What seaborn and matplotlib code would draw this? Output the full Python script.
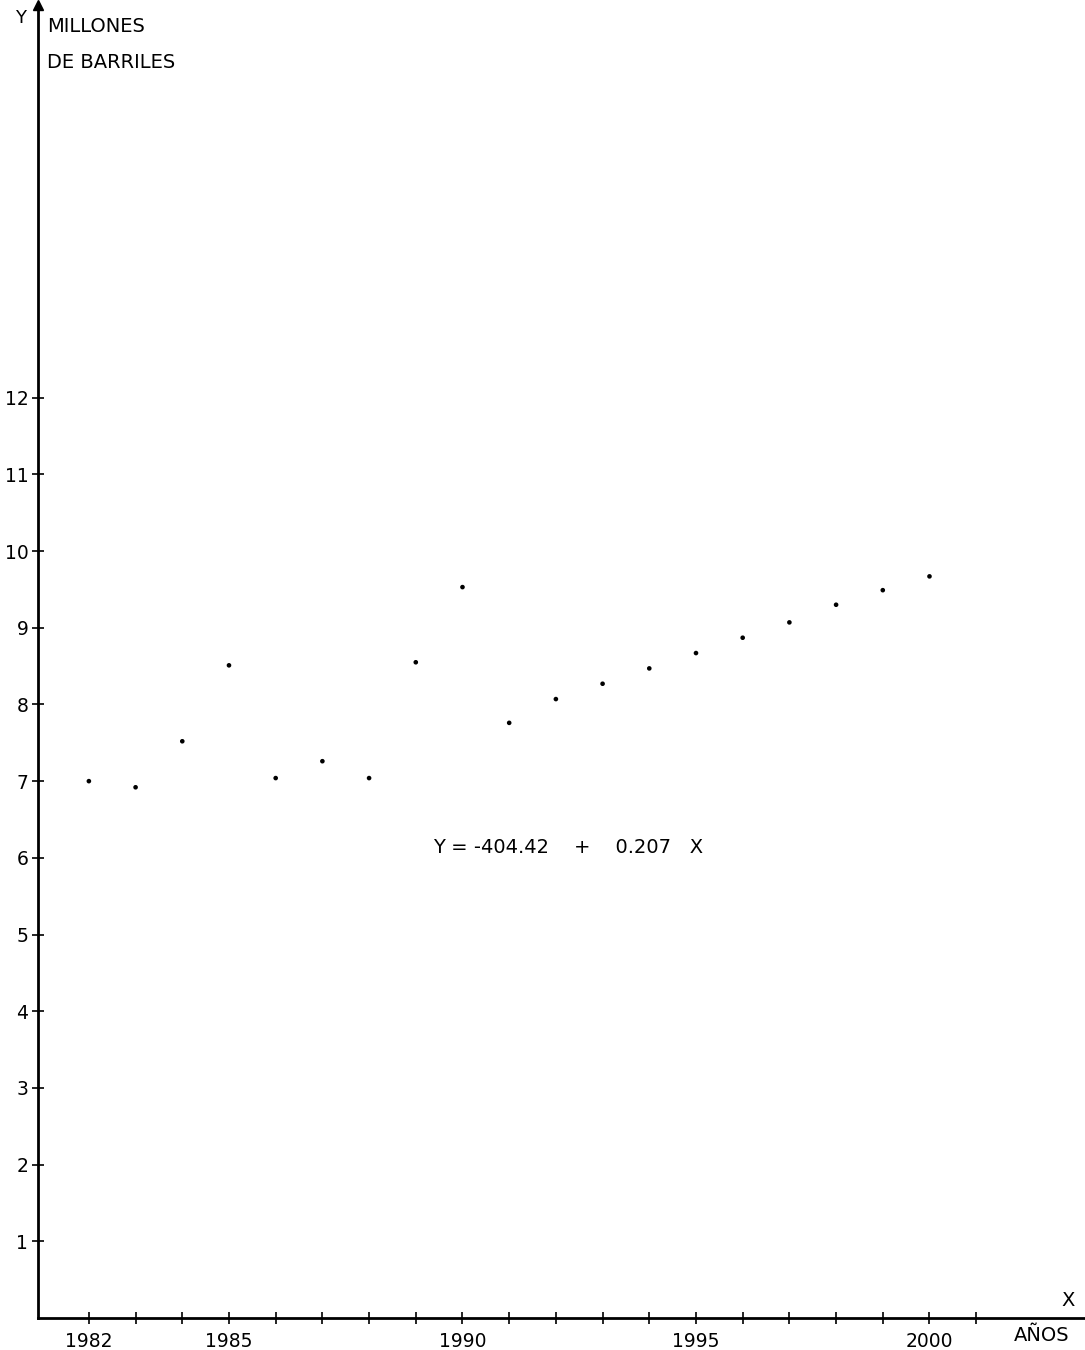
import matplotlib
matplotlib.use("Agg")
import matplotlib.pyplot as plt
import seaborn as sns
import pandas as pd

# produccion anual (millones de barriles)
years = [1982, 1983, 1984, 1985, 1986, 1987, 1988, 1989, 1990, 1991,
         1992, 1993, 1994, 1995, 1996, 1997, 1998, 1999, 2000]
barrels = [7.00, 6.92, 7.52, 8.51, 7.04, 7.26, 7.04, 8.55, 9.53, 7.76,
           8.07, 8.27, 8.47, 8.67, 8.87, 9.07, 9.30, 9.49, 9.67]

x_ticks = list(range(1982, 2002))
x_labels = ['1982', '1985', '1990', '1995', '2000']
y_ticks = list(range(1, 13))

df = pd.DataFrame({'year': years, 'barrels': barrels})

sns.set_style("ticks")
plt.rcParams['font.family'] = ['DejaVu Sans']
plt.rcParams['text.color'] = 'black'

fig = plt.figure(figsize=(10.85, 13.5), dpi=100)
ax = fig.add_axes([0.035, 0.0237, 0.965, 0.9726])

sns.scatterplot(data=df, x='year', y='barrels', ax=ax, color='black',
                s=11, edgecolor='none', legend=False)

ax.set_xlim(1980.91, 2003.33)
ax.set_ylim(0, 17.12)

ax.set_xticks(x_ticks)
ax.set_xticklabels([str(t) if str(t) in x_labels else '' for t in x_ticks])
ax.set_yticks(y_ticks)
ax.set_yticklabels([str(t) for t in y_ticks])
ax.tick_params(axis='both', direction='inout', length=8, width=1.2,
               colors='black', labelsize=13.5)
ax.tick_params(axis='x', pad=6)
ax.tick_params(axis='y', pad=3)

for side in ['top', 'right']:
    ax.spines[side].set_visible(False)
for side in ['left', 'bottom']:
    ax.spines[side].set_linewidth(2)
    ax.spines[side].set_color('black')

ax.set_xlabel('')
ax.set_ylabel('')

# flecha del eje Y
ax.plot([0], [1], marker='^', color='black', markersize=7,
        transform=ax.transAxes, clip_on=False)

fig.text(0.014, 0.987, 'Y', fontsize=13, ha='left', va='center', color='black')
fig.text(0.043, 0.980, 'MILLONES', fontsize=14, ha='left', va='center', color='black')
fig.text(0.043, 0.954, 'DE BARRILES', fontsize=14, ha='left', va='center', color='black')
fig.text(0.984, 0.037, 'X', fontsize=14, ha='center', va='center', color='black')
fig.text(0.960, 0.011, 'AÑOS', fontsize=14, ha='center', va='center', color='black')

ax.text(1992.26, 6.13, 'Y = -404.42    +    0.207   X', fontsize=14,
        ha='center', va='center', color='black')

fig.savefig('out.png', dpi=100)
